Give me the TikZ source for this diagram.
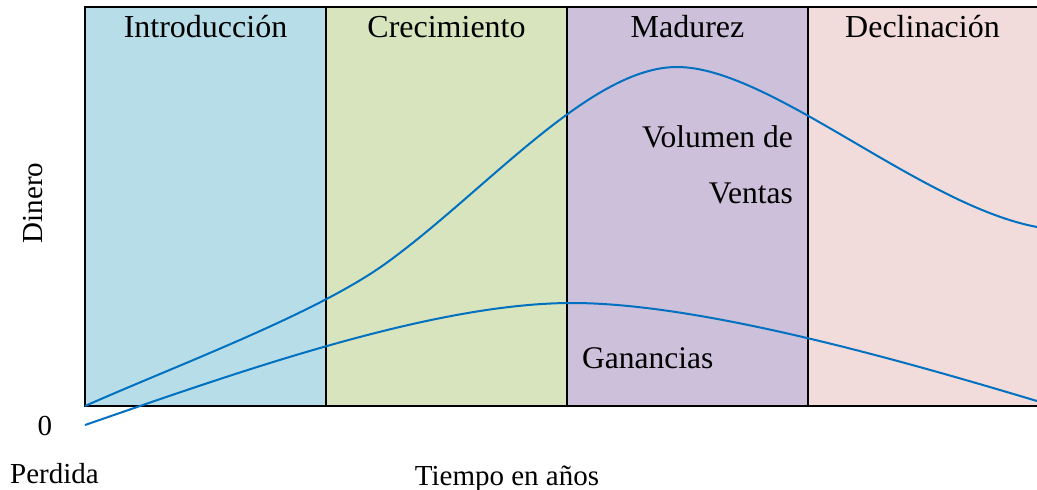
\documentclass[tikz,border=0pt]{standalone}
\usepackage{fontspec}
\setmainfont{Liberation Serif}
\definecolor{cIntro}{HTML}{B7DDE8}
\definecolor{cCrec}{HTML}{D7E4BD}
\definecolor{cMad}{HTML}{CCC0DA}
\definecolor{cDecl}{HTML}{F2DCDB}
\definecolor{curve}{HTML}{0070C0}
\tikzset{
  border/.style={black, line width=2.6pt},
  curveline/.style={curve, line width=2pt},
  header/.style={anchor=base, inner sep=0pt, font=\fontsize{32}{36}\selectfont},
  inlabel/.style={inner sep=0pt, font=\fontsize{31.5}{36}\selectfont},
  axlabel/.style={inner sep=0pt, font=\fontsize{29}{33}\selectfont},
}
\begin{document}
\begin{tikzpicture}[x=1pt,y=-1pt]
\useasboundingbox (0,0) rectangle (1037,490);
% phase backgrounds
\fill[cIntro] (85,7) rectangle (326,406);
\fill[cCrec] (326,7) rectangle (567,406);
\fill[cMad] (567,7) rectangle (808,406);
\fill[cDecl] (808,7) rectangle (1037,406);
% frame and dividers
\coordinate (tl) at (85,7);
\coordinate (bl) at (85,406);
\coordinate (tr) at (1037,7);
\coordinate (br) at (1037,406);
\draw[border, line cap=rect] (tr) -- (tl) -- (bl) -- (br);
\foreach \xx in {326,567,808} \draw[border] (\xx,7) -- (\xx,406);
% headers
\node[header] (h1) at (205.5,37) {Introducción};
\node[header] (h2) at (446.5,37) {Crecimiento};
\node[header] (h3) at (687.5,37) {Madurez};
\node[header] (h4) at (922.5,37) {Declinación};
% sales volume curve
\coordinate (v0) at (85,406);
\coordinate (v1) at (385,264);
\coordinate (v2) at (677,67);
\coordinate (v3) at (1037,227);
\draw[curveline] (v0) .. controls (180,364) and (315,314) .. (v1)
  .. controls (485,192) and (590,67) .. (v2)
  .. controls (770,67) and (920,205) .. (v3);
% profit curve
\coordinate (p0) at (85,425);
\coordinate (p1) at (572,303);
\coordinate (p2) at (1037,401);
\draw[curveline] (p0) .. controls (230,375) and (430,303) .. (p1)
  .. controls (700,303) and (900,360) .. (p2);
% labels
\node[inlabel, anchor=base east] (vol1) at (793,147) {Volumen de};
\node[inlabel, anchor=base east] (vol2) at (793,203) {Ventas};
\node[inlabel, anchor=base west] (gan) at (582,368) {Ganancias};
\node[axlabel, anchor=base] (zero) at (45,435) {0};
\node[axlabel, anchor=base west] (perd) at (10,483) {Perdida};
\node[axlabel, anchor=base] (tiempo) at (507,485) {Tiempo en años};
\node[axlabel, anchor=base, rotate=90] (dinero) at (42,203) {Dinero};
\end{tikzpicture}
\end{document}
